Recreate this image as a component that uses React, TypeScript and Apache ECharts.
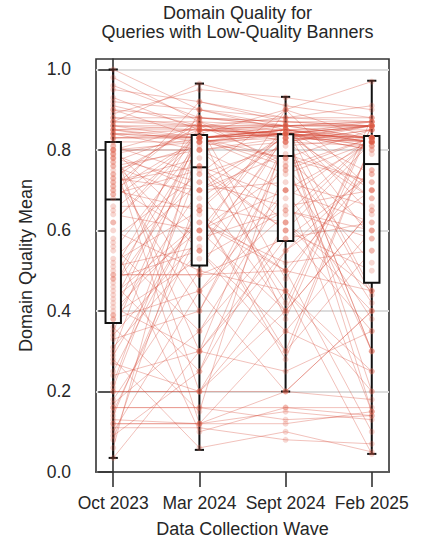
import React, { useEffect, useRef } from "react";
import * as echarts from "echarts";

const categories = ["Oct 2023", "Mar 2024", "Sept 2024", "Feb 2025"];

// Per-query domain quality means for each wave (same index = same query)
const oct2023 = [
  0.85, 0.84, 0.86, 0.83, 0.87, 0.9, 0.92, 0.88, 0.85, 0.84,
  1.0, 0.98, 0.95, 0.93, 0.91, 0.89, 0.87, 0.86, 0.85, 0.84,
  0.83, 0.86, 0.88, 0.9, 0.87, 0.84, 0.83, 0.85, 0.96, 0.82,
  0.8, 0.79, 0.78, 0.8, 0.77, 0.76, 0.75, 0.8, 0.79, 0.78,
  0.74, 0.73, 0.72, 0.71, 0.7, 0.69, 0.68, 0.81, 0.8, 0.79,
  0.77, 0.76, 0.74, 0.73, 0.72, 0.71, 0.7, 0.69, 0.81, 0.78,
  0.66, 0.65, 0.64, 0.62, 0.6, 0.58, 0.56, 0.55, 0.53, 0.52,
  0.5, 0.49, 0.49, 0.48, 0.48, 0.47, 0.46, 0.45, 0.44, 0.42,
  0.41, 0.4, 0.39, 0.39, 0.38, 0.38, 0.62, 0.57, 0.51, 0.43,
  0.35, 0.33, 0.31, 0.3, 0.29, 0.27, 0.25, 0.24, 0.22, 0.2,
  0.2, 0.18, 0.17, 0.16, 0.16, 0.15, 0.14, 0.13, 0.12, 0.12,
  0.11, 0.1, 0.09, 0.08, 0.06, 0.035, 0.36, 0.34, 0.28, 0.21,
];
const mar2024 = [
  0.85, 0.83, 0.86, 0.83, 0.86, 0.88, 0.9, 0.86, 0.83, 0.85,
  0.9, 0.87, 0.92, 0.85, 0.86, 0.95, 0.965, 0.83, 0.82, 0.83,
  0.83, 0.85, 0.88, 0.83, 0.87, 0.8, 0.84, 0.86, 0.88, 0.82,
  0.82, 0.83, 0.72, 0.8, 0.85, 0.68, 0.81, 0.6, 0.45, 0.3,
  0.86, 0.7, 0.76, 0.88, 0.65, 0.75, 0.83, 0.2, 0.86, 0.7,
  0.55, 0.8, 0.4, 0.87, 0.78, 0.58, 0.83, 0.92, 0.74, 0.12,
  0.66, 0.83, 0.6, 0.85, 0.5, 0.74, 0.35, 0.82, 0.72, 0.65,
  0.86, 0.49, 0.49, 0.82, 0.55, 0.25, 0.76, 0.9, 0.62, 0.83,
  0.3, 0.62, 0.53, 0.85, 0.45, 0.7, 0.83, 0.1, 0.56, 0.6,
  0.82, 0.4, 0.55, 0.85, 0.65, 0.2, 0.66, 0.3, 0.8, 0.2,
  0.2, 0.5, 0.35, 0.16, 0.16, 0.6, 0.64, 0.12, 0.12, 0.12,
  0.11, 0.45, 0.25, 0.7, 0.85, 0.3, 0.15, 0.58, 0.06, 0.76,
];
const sep2024 = [
  0.85, 0.78, 0.86, 0.85, 0.83, 0.86, 0.88, 0.84, 0.84, 0.84,
  0.85, 0.76, 0.87, 0.84, 0.86, 0.93, 0.91, 0.74, 0.84, 0.85,
  0.84, 0.83, 0.87, 0.85, 0.82, 0.82, 0.9, 0.88, 0.86, 0.84,
  0.83, 0.84, 0.83, 0.7, 0.86, 0.82, 0.84, 0.75, 0.7, 0.55,
  0.48, 0.72, 0.68, 0.87, 0.28, 0.6, 0.85, 0.4, 0.77, 0.79,
  0.35, 0.83, 0.82, 0.86, 0.42, 0.65, 0.84, 0.88, 0.9, 0.2,
  0.84, 0.86, 0.7, 0.38, 0.45, 0.81, 0.6, 0.84, 0.66, 0.3,
  0.85, 0.5, 0.58, 0.78, 0.84, 0.75, 0.6, 0.86, 0.52, 0.85,
  0.82, 0.5, 0.65, 0.84, 0.2, 0.84, 0.76, 0.16, 0.83, 0.4,
  0.85, 0.78, 0.3, 0.86, 0.84, 0.55, 0.62, 0.25, 0.62, 0.2,
  0.45, 0.84, 0.7, 0.16, 0.13, 0.86, 0.5, 0.12, 0.15, 0.35,
  0.08, 0.64, 0.62, 0.4, 0.84, 0.58, 0.84, 0.9, 0.1, 0.45,
];
const feb2025 = [
  0.85, 0.72, 0.86, 0.82, 0.86, 0.87, 0.88, 0.8, 0.83, 0.81,
  0.82, 0.83, 0.86, 0.7, 0.83, 0.9, 0.88, 0.82, 0.86, 0.74,
  0.83, 0.86, 0.87, 0.82, 0.85, 0.81, 0.97, 0.91, 0.86, 0.83,
  0.83, 0.8, 0.82, 0.62, 0.83, 0.68, 0.86, 0.42, 0.82, 0.7,
  0.79, 0.66, 0.83, 0.86, 0.82, 0.5, 0.83, 0.65, 0.3, 0.72,
  0.25, 0.44, 0.85, 0.45, 0.86, 0.6, 0.81, 0.87, 0.7, 0.4,
  0.83, 0.64, 0.38, 0.86, 0.2, 0.83, 0.82, 0.82, 0.7, 0.55,
  0.86, 0.45, 0.62, 0.85, 0.15, 0.83, 0.35, 0.87, 0.55, 0.83,
  0.86, 0.75, 0.58, 0.3, 0.4, 0.86, 0.52, 0.14, 0.82, 0.65,
  0.68, 0.6, 0.82, 0.86, 0.2, 0.75, 0.45, 0.35, 0.83, 0.18,
  0.25, 0.87, 0.15, 0.16, 0.14, 0.58, 0.1, 0.15, 0.13, 0.6,
  0.07, 0.83, 0.4, 0.88, 0.3, 0.74, 0.82, 0.83, 0.05, 0.045,
];

// Box statistics: [whisker low, Q1, median, Q3, whisker high]
const boxOct2023 = [0.035, 0.37, 0.677, 0.82, 1.0];
const boxMar2024 = [0.055, 0.513, 0.757, 0.837, 0.965];
const boxSep2024 = [0.2, 0.574, 0.785, 0.839, 0.932];
const boxFeb2025 = [0.045, 0.47, 0.765, 0.835, 0.972];

const yTicks = [0, 0.2, 0.4, 0.6, 0.8, 1.0];

const FONT = "'Liberation Sans', Arial, Helvetica, sans-serif";
const TEXT = "#262626";
const FRAME = "#333333";
const LINE_COLOR = "rgba(214, 72, 52, 0.4)";
const DOT_COLOR = "rgba(222, 92, 72, 0.3)";

export default function App() {
  const ref = useRef<HTMLDivElement>(null);

  useEffect(() => {
    const chart = echarts.init(ref.current!, null, { renderer: "svg" });
    const waves = [oct2023, mar2024, sep2024, feb2025];
    const boxes = [boxOct2023, boxMar2024, boxSep2024, boxFeb2025];
    const xIdx = categories.map((_, i) => i);

    const lineSeries = oct2023.map((_, i) => ({
      type: "line",
      data: waves.map((w, k) => [k, w[i]]),
      symbol: "none",
      showSymbol: false,
      silent: true,
      lineStyle: { color: LINE_COLOR, width: 0.85 },
      z: 2,
    }));

    const dotSeries = {
      type: "scatter",
      data: waves.flatMap((w, k) => w.map((v) => [k, v])),
      symbol: "circle",
      symbolSize: 5.5,
      silent: true,
      itemStyle: { color: DOT_COLOR, borderColor: "rgba(240,150,135,0.3)", borderWidth: 0.5 },
      z: 6,
    };

    const boxSeries = {
      type: "custom",
      data: boxes.map((b, k) => [k, ...b]),
      encode: { x: 0, y: [1, 2, 3, 4, 5] },
      silent: true,
      z: 4,
      renderItem: (params: any, api: any) => {
        const k = api.value(0);
        const x = api.coord([k, 0])[0];
        const yLo = api.coord([k, api.value(1)])[1];
        const yQ1 = api.coord([k, api.value(2)])[1];
        const yMed = api.coord([k, api.value(3)])[1];
        const yQ3 = api.coord([k, api.value(4)])[1];
        const yHi = api.coord([k, api.value(5)])[1];
        const hw = 7.7;
        const cap = 4.6;
        const st = { stroke: "#111111", lineWidth: 2, fill: "none" };
        return {
          type: "group",
          children: [
            { type: "line", shape: { x1: x, y1: yLo, x2: x, y2: yQ1 }, style: st },
            { type: "line", shape: { x1: x, y1: yQ3, x2: x, y2: yHi }, style: st },
            { type: "line", shape: { x1: x - cap, y1: yLo, x2: x + cap, y2: yLo }, style: st },
            { type: "line", shape: { x1: x - cap, y1: yHi, x2: x + cap, y2: yHi }, style: st },
            {
              type: "rect",
              shape: { x: x - hw, y: yQ3, width: hw * 2, height: yQ1 - yQ3 },
              style: { stroke: "#111111", lineWidth: 2, fill: "#ffffff" },
            },
            { type: "line", shape: { x1: x - hw, y1: yMed, x2: x + hw, y2: yMed }, style: st },
          ],
        };
      },
    };

    chart.setOption({
      animation: false,
      textStyle: { fontFamily: FONT },
      grid: {
        left: 96,
        right: 33,
        top: 59,
        bottom: 72,
        show: true,
        borderColor: FRAME,
        borderWidth: 1.6,
        backgroundColor: "transparent",
      },
      graphic: [
        {
          type: "text",
          x: 237.5,
          y: 4,
          style: {
            text: "Domain Quality for",
            fontSize: 18,
            fontFamily: FONT,
            fill: TEXT,
            textAlign: "center",
            textVerticalAlign: "top",
          },
        },
        {
          type: "text",
          x: 237.5,
          y: 23.3,
          style: {
            text: "Queries with Low-Quality Banners",
            fontSize: 18,
            fontFamily: FONT,
            fill: TEXT,
            textAlign: "center",
            textVerticalAlign: "top",
          },
        },
      ],
      xAxis: {
        type: "value",
        min: -0.2,
        max: 3.2,
        name: "Data Collection Wave",
        nameLocation: "middle",
        nameGap: 48,
        nameTextStyle: { fontSize: 18, color: TEXT, fontFamily: FONT },
        axisLine: { show: true, lineStyle: { color: FRAME, width: 1.6 } },
        axisTick: {
          show: true,
          customValues: xIdx,
          length: 15,
          lineStyle: { color: FRAME, width: 1.6 },
        },
        axisLabel: {
          show: true,
          customValues: xIdx,
          formatter: (v: number) => categories[Math.round(v)] ?? "",
          fontSize: 17.5,
          color: TEXT,
          fontFamily: FONT,
          margin: 22,
        },
        splitLine: { show: false },
      },
      yAxis: {
        type: "value",
        min: 0,
        max: 1.026,
        interval: 0.2,
        name: "Domain Quality Mean",
        nameLocation: "middle",
        nameGap: 61,
        nameTextStyle: { fontSize: 18, color: TEXT, fontFamily: FONT },
        axisLine: { show: true, lineStyle: { color: FRAME, width: 1.6 } },
        axisTick: {
          show: true,
          customValues: yTicks,
          length: 15,
          lineStyle: { color: FRAME, width: 1.6 },
        },
        axisLabel: {
          customValues: yTicks,
          formatter: (v: number) => v.toFixed(1),
          fontSize: 17.5,
          color: TEXT,
          fontFamily: FONT,
          margin: 25,
        },
        splitLine: { show: true, lineStyle: { color: "#dcdcdc", width: 1.8 } },
      },
      series: [...lineSeries, boxSeries, dotSeries],
    });

    return () => chart.dispose();
  }, []);

  return (
    <div
      ref={ref}
      style={{ position: "fixed", left: 0, top: 0, width: 422, height: 544, background: "#ffffff" }}
    />
  );
}
